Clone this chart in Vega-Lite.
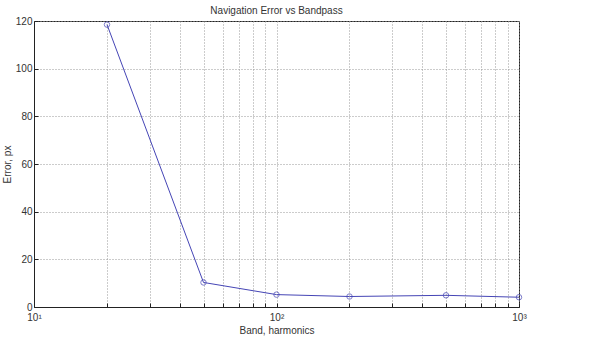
{
  "$schema": "https://vega.github.io/schema/vega-lite/v6.json",
  "width": 485,
  "height": 286,
  "autosize": {"type": "none"},
  "padding": {"left": 34, "top": 21, "right": 86, "bottom": 30},
  "background": "white",
  "title": {"text": "Navigation Error vs Bandpass", "fontSize": 10, "font": "Liberation Sans", "fontWeight": "normal", "color": "#333333", "offset": 0},
  "config": {
    "view": {"stroke": "#222222", "strokeWidth": 1},
    "axis": {
      "labelFont": "Liberation Sans", "titleFont": "Liberation Sans",
      "labelFontSize": 10, "titleFontSize": 10, "titleFontWeight": "normal",
      "labelColor": "#333333", "titleColor": "#333333",
      "domainColor": "#222222", "tickColor": "#222222",
      "gridColor": "#999999", "gridDash": [1, 2], "gridOpacity": 1,
      "tickSize": -4
    }
  },
  "data": {"values": [
    {"band": 20, "error": 118.5},
    {"band": 50, "error": 10.3},
    {"band": 100, "error": 5.2},
    {"band": 200, "error": 4.4},
    {"band": 500, "error": 4.9},
    {"band": 1000, "error": 4.1}
  ]},
  "encoding": {
    "x": {"field": "band", "type": "quantitative",
      "scale": {"type": "log", "domain": [10, 1000], "nice": false},
      "axis": {"title": "Band, harmonics", "values": [10,20,30,40,50,60,70,80,90,100,200,300,400,500,600,700,800,900,1000],
        "labelExpr": "datum.value == 10 ? '10¹' : datum.value == 100 ? '10²' : datum.value == 1000 ? '10³' : ''",
        "grid": true, "labelPadding": 9, "titlePadding": 3, "labelFlush": false}},
    "y": {"field": "error", "type": "quantitative",
      "scale": {"domain": [0, 120], "nice": false},
      "axis": {"title": "Error, px", "values": [0,20,40,60,80,100,120], "grid": true, "labelPadding": 6, "titlePadding": 3}}
  },
  "layer": [
    {"mark": {"type": "line", "color": "#4545b5", "strokeWidth": 1}},
    {"mark": {"type": "point", "shape": "circle", "size": 30, "color": "#4545b5", "filled": false, "strokeWidth": 1}}
  ]
}
